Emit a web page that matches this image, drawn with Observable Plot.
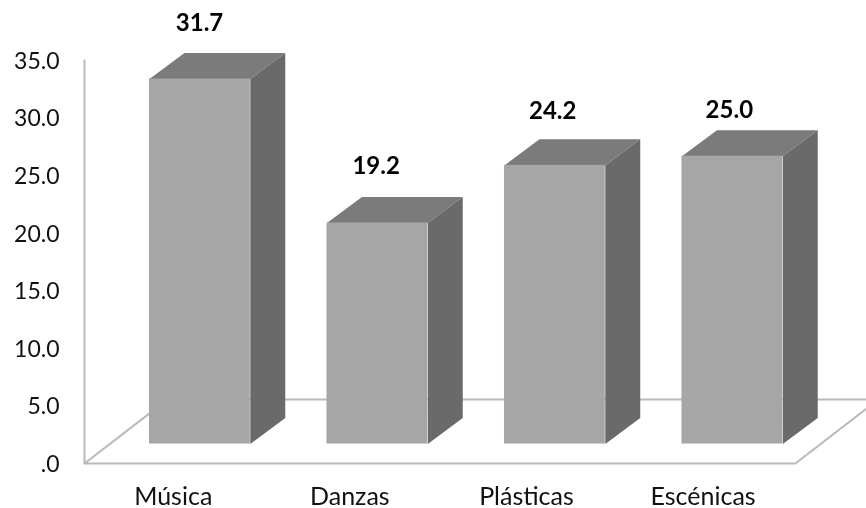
<!DOCTYPE html>
<html>
<head>
<meta charset="utf-8">
<script src="https://cdn.jsdelivr.net/npm/d3@7"></script>
<script src="https://cdn.jsdelivr.net/npm/@observablehq/plot@0.6"></script>
<style>
html,body{margin:0;padding:0;background:#fff}
svg{display:block;filter:blur(0.45px)}
</style>
</head>
<body>
<div id="chart"></div>
<script>
const categories = ["Música", "Danzas", "Plásticas", "Escénicas"];
const values = [31.7, 19.2, 24.2, 25.0];
const yTicks = [0, 5, 10, 15, 20, 25, 30, 35];
const labelLift = [4.8, 4.95, 4.72, 4.0];

// Projection constants of the pseudo-3D view, in data units
const barCentre = 0.65, barHalf = 0.284, barBase = 1.69;
const barDepthX = 0.197, barDepthY = 2.26;
const floorDepthX = 0.467, floorDepthY = 5.55;
const labelStep = 0.995;

const bars = categories.map((c, i) => ({
  c, v: values[i],
  x1: i + barCentre - barHalf, x2: i + barCentre + barHalf,
  y1: barBase, y2: barBase + values[i]
}));
const topFaces = [], sideFaces = [];
bars.forEach((b, i) => {
  [[b.x1, b.y2], [b.x2, b.y2], [b.x2 + barDepthX, b.y2 + barDepthY], [b.x1 + barDepthX, b.y2 + barDepthY]]
    .forEach(([x, y]) => topFaces.push({id: i, x, y}));
  [[b.x2, b.y1], [b.x2, b.y2], [b.x2 + barDepthX, b.y2 + barDepthY], [b.x2 + barDepthX, b.y1 + barDepthY]]
    .forEach(([x, y]) => sideFaces.push({id: i, x, y}));
});
const n = categories.length;
const floorEnd = n + 0.005;
const floorPath = [[floorDepthX, floorDepthY], [0, 0], [floorEnd, 0], [floorEnd + floorDepthX, floorDepthY], [floorDepthX, floorDepthY]]
  .map(([x, y]) => ({x, y}));
const wallPath = [{x: 0, y: 0}, {x: 0, y: 35}];
const lineColor = "#b9b9b9";

const chart = Plot.plot({
  width: 866, height: 508,
  marginLeft: 84, marginRight: 72, marginTop: 60, marginBottom: 45,
  style: {fontFamily: "Lato, sans-serif", background: "#fff", color: "#111"},
  x: {type: "linear", domain: [0, n]},
  y: {type: "linear", domain: [0, 35]},
  marks: [
    Plot.line(floorPath, {x: "x", y: "y", stroke: lineColor, strokeWidth: 2}),
    Plot.line(wallPath, {x: "x", y: "y", stroke: lineColor, strokeWidth: 2}),
    Plot.line(topFaces, {x: "x", y: "y", z: "id", fill: "#7b7b7b", stroke: "none"}),
    Plot.line(sideFaces, {x: "x", y: "y", z: "id", fill: "#6a6a6a", stroke: "none"}),
    Plot.rect(bars, {x1: "x1", x2: "x2", y1: "y1", y2: "y2", fill: "#a6a6a6"}),
    Plot.text(bars, {
      x: (d, i) => i * labelStep + barCentre - 0.002,
      y: (d, i) => d.y2 + labelLift[i],
      text: d => d.v.toFixed(1),
      fontWeight: "bold", fontSize: 24, fill: "#000"
    }),
    Plot.axisY({ticks: yTicks, tickSize: 0, tickPadding: 25, dy: 1, label: null, fontSize: 23,
      tickFormat: d => d === 0 ? ".0" : d.toFixed(1)}),
    Plot.axisX({ticks: categories.map((c, i) => i * labelStep + 0.5), tickSize: 0, tickPadding: 24, label: null, fontSize: 25,
      tickFormat: d => categories[Math.floor(d)]})
  ]
});
document.getElementById("chart").append(chart);
</script>
</body>
</html>
